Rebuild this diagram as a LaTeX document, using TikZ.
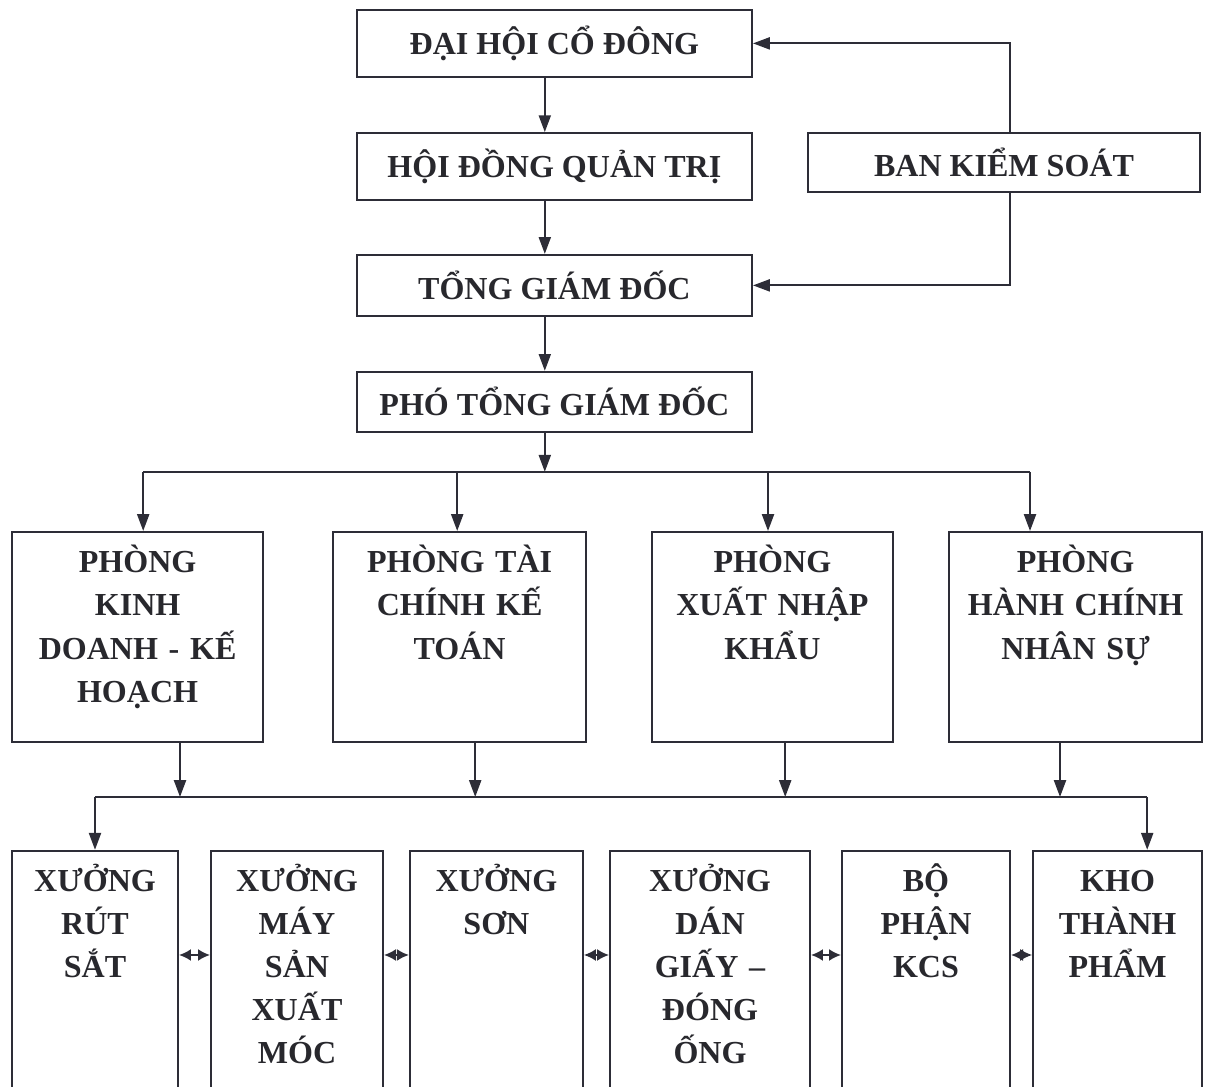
\documentclass[tikz,border=0pt]{standalone}
\usepackage{fontspec}
\setmainfont{Liberation Serif}
\usepackage{xcolor}
\definecolor{orgline}{RGB}{45,45,55}
\definecolor{orgtext}{RGB}{40,40,45}
\usepackage{tikz}
\usetikzlibrary{arrows.meta, positioning, calc}

\tikzset{
  orgfont/.style={font=\fontsize{22.8}{30.6}\selectfont\bfseries, text=orgtext},
  topbox/.style={draw=orgline, line width=1.4pt, orgfont, minimum height=1.675cm, inner sep=0pt, align=center},
  deptbox/.style={draw=orgline, line width=1.4pt, orgfont, align=center, inner sep=0pt, anchor=north,
    text height=1.025cm, text depth=4.225cm},
  shopbox/.style={draw=orgline, line width=1.4pt, orgfont, align=center, inner sep=0pt, anchor=north,
    text height=1.025cm, text depth=5.475cm},
  arr/.style={orgline, line width=1.4pt, -{Triangle[length=0.42cm,width=0.3cm]}},
  dblarr/.style={orgline, line width=1.4pt, {Latex[length=0.3cm,width=0.3cm]}-{Latex[length=0.3cm,width=0.3cm]}},
  bus/.style={orgline, line width=1.4pt}
}

\begin{document}
\begin{tikzpicture}
  \useasboundingbox (0,0) rectangle (30.2,27.175);
  \clip (0,0) rectangle (30.2,27.175);

  % --- Top column ---
  \node[topbox, minimum width=9.88cm] (dhcd) at (13.86,26.09) {ĐẠI HỘI CỔ ĐÔNG};
  \node[topbox, minimum width=9.88cm] (hdqt) at (13.86,23.01) {HỘI ĐỒNG QUẢN TRỊ};
  \node[topbox, minimum width=9.88cm, minimum height=1.525cm] (tgd) at (13.86,20.04) {TỔNG GIÁM ĐỐC};
  \node[topbox, minimum width=9.88cm, minimum height=1.5cm] (ptgd) at (13.86,17.13) {PHÓ TỔNG GIÁM ĐỐC};
  \node[topbox, minimum width=9.8cm, minimum height=1.475cm] (bks) at (25.1,23.11) {BAN KIỂM SOÁT};

  % Trunk down the column
  \coordinate (trunk) at (13.62,15.38);
  \draw[arr] (dhcd.south -| trunk) -- (hdqt.north -| trunk);
  \draw[arr] (hdqt.south -| trunk) -- (tgd.north -| trunk);
  \draw[arr] (tgd.south -| trunk) -- (ptgd.north -| trunk);
  \draw[arr] (ptgd.south -| trunk) -- (trunk);

  % Ban kiem soat links
  \draw[arr] ([xshift=0.15cm]bks.north) |- (dhcd.east);
  \draw[arr] ([xshift=0.15cm]bks.south) |- (tgd.east);

  % --- Departments ---
  \node[deptbox, text width=6.275cm] (kd) at (3.44,13.9) {PHÒNG\\KINH\\DOANH - KẾ\\HOẠCH};
  \node[deptbox, text width=6.325cm] (tckt) at (11.49,13.9) {PHÒNG TÀI\\CHÍNH KẾ\\TOÁN};
  \node[deptbox, text width=6.025cm] (xnk) at (19.31,13.9) {PHÒNG\\XUẤT NHẬP\\KHẨU};
  \node[deptbox, text width=6.325cm] (hcns) at (26.89,13.9) {PHÒNG\\HÀNH CHÍNH\\NHÂN SỰ};

  % Bus 1
  \coordinate (d1) at (3.58,15.38);
  \coordinate (d2) at (11.43,15.38);
  \coordinate (d3) at (19.2,15.38);
  \coordinate (d4) at (25.75,15.38);
  \draw[bus] (d1) -- (d4);
  \foreach \c/\n in {d1/kd, d2/tckt, d3/xnk, d4/hcns}
    \draw[arr] (\c) -- (\c |- \n.north);

  % --- Workshops ---
  \node[shopbox, text width=4.15cm] (rs) at (2.375,5.93) {XƯỞNG\\RÚT\\SẮT};
  \node[shopbox, text width=4.3cm] (msx) at (7.425,5.93) {XƯỞNG\\MÁY\\SẢN\\XUẤT\\MÓC};
  \node[shopbox, text width=4.325cm] (son) at (12.41,5.93) {XƯỞNG\\SƠN};
  \node[shopbox, text width=5.0cm] (dg) at (17.75,5.93) {XƯỞNG\\DÁN\\GIẤY –\\ĐÓNG\\ỐNG};
  \node[shopbox, text width=4.2cm] (kcs) at (23.15,5.93) {BỘ\\PHẬN\\KCS};
  \node[shopbox, text width=4.225cm] (ktp) at (27.94,5.93) {KHO\\THÀNH\\PHẨM};

  % Bus 2
  \coordinate (s1) at (4.5,7.25);
  \coordinate (s2) at (11.88,7.25);
  \coordinate (s3) at (19.63,7.25);
  \coordinate (s4) at (26.5,7.25);
  \coordinate (bl) at (2.375,7.25);
  \coordinate (br) at (28.68,7.25);
  \draw[bus] (bl) -- (br);
  \foreach \c/\n in {s1/kd, s2/tckt, s3/xnk, s4/hcns}
    \draw[arr] (\c |- \n.south) -- (\c);
  \draw[arr] (bl) -- (bl |- rs.north);
  \draw[arr] (br) -- (br |- ktp.north);

  % Links between workshops
  \coordinate (row) at (0,3.3);
  \foreach \a/\b in {rs/msx, msx/son, son/dg, dg/kcs, kcs/ktp}
    \draw[dblarr] (\a.east |- row) -- (\b.west |- row);
\end{tikzpicture}
\end{document}
